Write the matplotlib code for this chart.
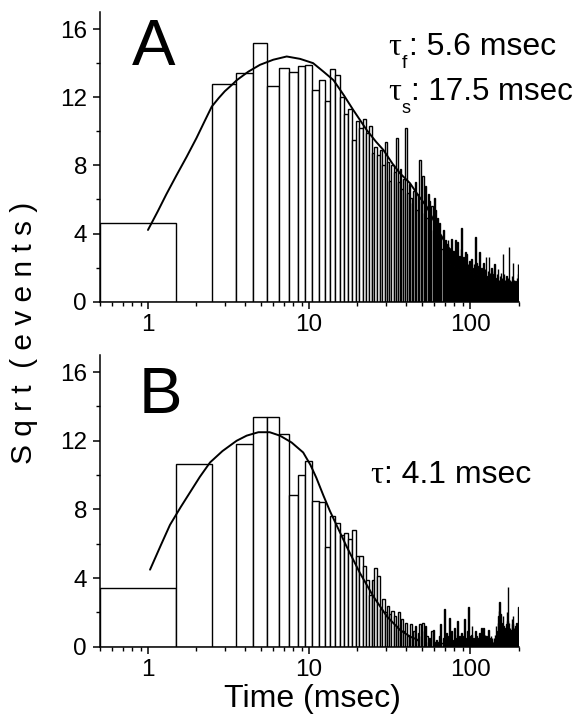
import numpy as np
import matplotlib.pyplot as plt
from matplotlib.ticker import FixedLocator, NullFormatter

plt.rcParams['font.family'] = ['Liberation Sans', 'DejaVu Sans']

# 1-ms bins, centres 1..200 ms
bin_centres = np.arange(1, 201)

sqrt_a = [
    4.6, 0, 12.75, 13.4, 15.2, 12.65, 13.7, 13.45, 13.85, 13.9,
    12.4, 13.0, 11.8, 13.65, 13.3, 12.0, 11.0, 11.3, 9.5, 10.6,
    10.2, 10.7, 9.9, 10.3, 8.7, 9.1, 8.6, 8.9, 8.0, 9.4,
    8.2, 7.1, 8.0, 7.6, 9.6, 7.0, 7.8, 6.6, 7.2, 10.2,
    6.4, 6.9, 6.1, 5.8, 6.5, 7.0, 5.4, 6.3, 8.3, 5.9,
    7.4, 5.2, 6.8, 4.9, 6.3, 5.9, 4.5, 5.6, 4.2, 6.1,
    5.4, 4.0, 4.9, 3.6, 4.6, 3.9, 3.1, 4.2, 3.2, 3.6,
    2.7, 3.4, 3.6, 2.5, 3.1, 2.2, 3.7, 2.6, 3.0, 2.1,
    3.6, 2.4, 2.9, 3.5, 1.9, 2.7, 2.2, 3.1, 4.3, 2.0,
    2.6, 1.8, 2.3, 2.9, 2.8, 1.6, 2.2, 1.9, 2.4, 1.5,
    1.8, 2.5, 1.3, 2.0, 1.7, 2.2, 1.4, 3.8, 1.9, 2.3,
    1.6, 1.2, 2.1, 1.5, 2.9, 1.8, 1.1, 2.0, 1.4, 1.7,
    2.3, 1.0, 1.6, 1.9, 1.2, 2.6, 1.5, 1.3, 1.8, 1.0,
    2.6, 1.4, 1.7, 0.9, 1.5, 2.0, 1.1, 1.6, 1.3, 0.8,
    1.8, 2.2, 1.0, 1.4, 1.2, 0.9, 1.6, 1.1, 1.9, 0.7,
    1.3, 1.0, 1.5, 0.8, 1.2, 1.7, 0.9, 1.4, 1.1, 2.8,
    1.2, 0.8, 1.6, 1.0, 1.3, 0.7, 1.1, 1.5, 0.9, 1.2,
    0.8, 1.4, 1.0, 3.2, 1.1, 0.7, 1.3, 0.9, 1.0, 1.2,
    0.8, 1.5, 0.9, 1.1, 2.3, 0.6, 1.0, 1.3, 0.8, 1.1,
    0.7, 1.2, 0.9, 1.0, 0.6, 1.4, 0.8, 2.2, 0.9, 1.6,
]

sqrt_b = [
    3.42, 10.64, 0, 11.81, 13.4, 13.4, 12.4, 8.84, 10.0, 10.83,
    8.49, 8.45, 5.8, 7.6, 7.2, 6.5, 6.6, 6.3, 6.8, 5.3,
    5.3, 4.7, 3.9, 3.0, 3.9, 4.6, 4.1, 2.2, 2.8, 2.0,
    2.4, 1.9, 2.1, 1.8, 1.2, 2.0, 1.3, 1.6, 0.9, 1.4,
    0.6, 0.7, 1.3, 0.5, 0.9, 1.2, 0.4, 0.8, 1.3, 0.6,
    1.4, 0.9, 1.2, 0.6, 0.3, 0.5, 0.2, 0.9, 1.0, 0.3,
    0.0, 0.4, 0.3, 0.0, 0.6, 1.3, 0.2, 0.5, 2.2, 0.4,
    0.8, 0.5, 0.3, 0.6, 1.7, 0.3, 0.9, 0.0, 0.4, 1.1,
    0.5, 0.2, 0.7, 1.5, 0.3, 0.6, 0.0, 0.4, 0.8, 0.3,
    0.6, 1.6, 0.4, 0.2, 0.5, 0.9, 0.3, 2.3, 0.6, 0.4,
    0.2, 0.7, 1.2, 0.3, 0.5, 0.0, 0.4, 0.9, 0.3, 0.6,
    0.2, 0.0, 0.5, 0.3, 0.8, 0.2, 0.4, 1.1, 0.3, 0.6,
    1.1, 0.4, 0.2, 0.7, 0.0, 0.3, 0.6, 0.2, 0.4, 1.0,
    0.3, 0.5, 0.0, 0.2, 0.6, 0.4, 0.5, 0.0, 0.3, 0.2,
    0.5, 0.3, 0.7, 0.4, 1.2, 0.5, 0.3, 0.9, 1.4, 1.8,
    2.1, 2.6, 1.5, 1.1, 1.9, 0.8, 1.4, 0.7, 1.0, 1.8,
    1.2, 0.6, 0.9, 0.4, 0.8, 1.1, 0.5, 1.3, 0.9, 2.0,
    1.5, 3.5, 1.0, 0.6, 1.4, 0.8, 1.1, 0.5, 0.9, 0.4,
    1.0, 1.6, 0.7, 1.3, 1.8, 0.9, 0.6, 1.1, 0.5, 0.8,
    0.4, 1.2, 0.8, 1.4, 0.6, 0.9, 0.3, 1.0, 0.7, 2.3,
]

# fitted curves, points
fit_a_t = [1.0, 1.15, 1.3, 1.5, 1.74, 2.0, 2.25, 2.49, 2.75, 3.0, 3.3, 3.56, 4.2, 4.96,
           6.0, 7.27, 8.8, 10.6, 12.3, 14.2, 16.5, 18.8, 22.8, 26, 29.0, 33, 36.7,
           42.4, 48, 53.8, 60, 65, 73, 85]
fit_a_v = [4.21, 5.3, 6.3, 7.4, 8.51, 9.6, 10.6, 11.45, 11.95, 12.35, 12.7, 13.0, 13.5, 13.9,
           14.2, 14.39, 14.25, 14.0, 13.5, 13.0, 12.1, 11.26, 10.08, 9.4, 8.9, 8.1, 7.54,
           6.95, 6.2, 5.58, 4.7, 4.0, 3.2, 2.6]
fit_b_t = [1.03, 1.2, 1.37, 1.6, 1.82, 2.1, 2.43, 2.9, 3.55, 4.1, 4.85, 5.7, 6.6,
           7.8, 9.2, 10.2, 11.1, 12.3, 13.5, 15.5, 17.1, 20.7, 25.1, 30.5, 36.7, 42.4, 47.6]
fit_b_v = [4.49, 5.9, 7.1, 8.15, 8.98, 9.9, 10.74, 11.4, 12.0, 12.3, 12.5, 12.5, 12.3,
           11.9, 11.32, 10.6, 9.85, 8.8, 7.9, 6.7, 5.85, 4.3, 2.93, 1.76, 0.98, 0.59, 0.39]

W, H = 583, 715
fig = plt.figure(figsize=(W / 100, H / 100), dpi=100)
ax_a = fig.add_axes([99.5 / W, 1 - 301.7 / H, 419 / W, 289.7 / H])
ax_b = fig.add_axes([99.5 / W, 1 - 646.7 / H, 419 / W, 291.7 / H])


def style(ax):
    ax.set_xscale('log')
    ax.set_xlim(0.5, 200)
    ax.set_ylim(0, 17)
    for s in ['top', 'right']:
        ax.spines[s].set_visible(False)
    for s in ['left', 'bottom']:
        ax.spines[s].set_linewidth(1.1)
    ax.xaxis.set_major_locator(FixedLocator([1, 10, 100]))
    ax.set_xticklabels(['1', '10', '100'])
    minors = [0.5, 0.6, 0.7, 0.8, 0.9] + list(range(2, 10)) + list(range(20, 100, 10)) + [200]
    ax.xaxis.set_minor_locator(FixedLocator(minors))
    ax.xaxis.set_minor_formatter(NullFormatter())
    ax.set_yticks([0, 4, 8, 12, 16])
    ax.yaxis.set_minor_locator(FixedLocator([2, 6, 10, 14]))
    ax.tick_params(which='major', direction='out', length=5, width=1.1, labelsize=17.5, pad=4)
    ax.tick_params(which='minor', direction='out', length=3, width=1.0)


for ax, vals, ft, fv in [(ax_a, sqrt_a, fit_a_t, fit_a_v), (ax_b, sqrt_b, fit_b_t, fit_b_v)]:
    ax.bar(bin_centres, vals, width=1.0, color='white', edgecolor='black', linewidth=1.0)
    ax.plot(ft, fv, color='black', lw=1.4, solid_capstyle='round')
    style(ax)

ax_a.text(0.077, 0.817, 'A', transform=ax_a.transAxes, fontsize=47, va='baseline', ha='left')
ax_b.text(0.093, 0.80, 'B', transform=ax_b.transAxes, fontsize=47, va='baseline', ha='left')


def px(x, y):
    return x / W, 1 - y / H


tau_font = ['Liberation Serif', 'DejaVu Serif']
fig.text(*px(388, 55), '\u03c4', fontsize=23, family=tau_font, va='baseline')
fig.text(*px(402, 68), 'f', fontsize=14, va='baseline')
fig.text(*px(409, 55), ': 5.6 msec', fontsize=23, va='baseline')
fig.text(*px(388, 100), '\u03c4', fontsize=23, family=tau_font, va='baseline')
fig.text(*px(401, 113), 's', fontsize=13, va='baseline')
fig.text(*px(411, 100), ': 17.5 msec', fontsize=22.5, va='baseline')
fig.text(*px(370, 483), '\u03c4', fontsize=23, family=tau_font, va='baseline')
fig.text(*px(384, 483), ': 4.1 msec', fontsize=23, va='baseline')

fig.text(*px(24, 333), 'S q r t  ( e v e n t s )', rotation=90, fontsize=21.5, ha='center', va='center')
fig.text(*px(312, 707), 'Time (msec)', fontsize=23, ha='center', va='baseline')

fig.savefig('out.png', dpi=100)
